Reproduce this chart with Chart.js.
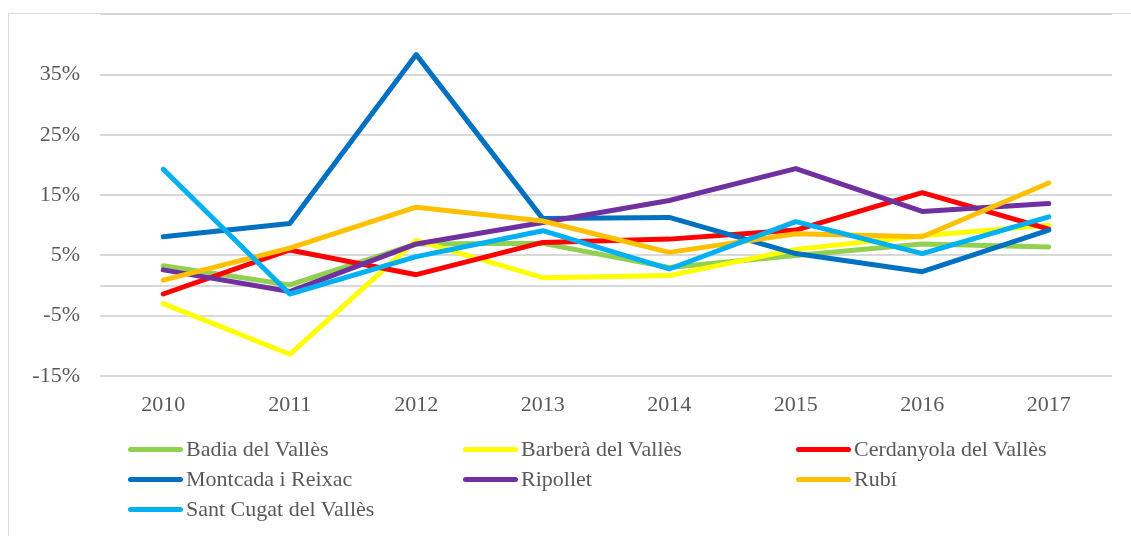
<!DOCTYPE html>
<html>
<head>
<meta charset="utf-8">
<script src="https://cdn.jsdelivr.net/npm/chart.js@4.4.1/dist/chart.umd.min.js"></script>
<style>
  html, body { margin: 0; padding: 0; background: #fff; }
  #wrap { position: relative; width: 1131px; height: 536px; overflow: hidden; }
  #frame { position: absolute; left: 8px; top: 13px; width: 1130px; height: 540px; border: 1px solid #d9d9d9; box-sizing: border-box; }
  #cbox { position: absolute; left: 0; top: -19px; width: 1131px; height: 439px; }
  #legend { position: absolute; left: 0; top: 0; width: 1131px; height: 536px; pointer-events: none; }
  .li { position: absolute; display: flex; align-items: center; font-family: "Liberation Serif", "DejaVu Serif", serif; font-size: 22px; color: #595959; white-space: nowrap; }
  .li .sw { width: 55px; height: 5px; border-radius: 3px; margin-right: 3px; }
</style>
</head>
<body>
<div id="wrap">
  <div id="frame"></div>
  <div id="cbox"><canvas id="c"></canvas></div>
  <div id="legend"></div>
</div>
<script>
const years = ['2010','2011','2012','2013','2014','2015','2016','2017'];
const seriesNames = ['Badia del Vallès','Barberà del Vallès','Cerdanyola del Vallès','Montcada i Reixac','Ripollet','Rubí','Sant Cugat del Vallès'];
const badia      = [3.3, 0.1, 6.9, 7.0, 3.0, 5.0, 6.9, 6.4];
const barbera    = [-3.0, -11.4, 7.5, 1.3, 1.65, 6.0, 8.25, 10.0];
const cerdanyola = [-1.4, 5.9, 1.8, 7.15, 7.7, 9.2, 15.4, 9.35];
const montcada   = [8.1, 10.3, 38.3, 11.1, 11.3, 5.3, 2.3, 9.2];
const ripollet   = [2.6, -1.0, 6.9, 10.45, 14.1, 19.4, 12.3, 13.6];
const rubi       = [0.9, 6.2, 13.0, 10.7, 5.5, 8.6, 8.1, 17.0];
const santCugat  = [19.3, -1.4, 4.8, 9.1, 2.75, 10.6, 5.3, 11.4];
const colors = ['#92D050','#FFFF00','#FF0000','#0070C0','#7030A0','#FFC000','#00B0F0'];
const yTickLabels = {'-15':'-15%','-5':'-5%','5':'5%','15':'15%','25':'25%','35':'35%'};

const seriesData = [badia, barbera, cerdanyola, montcada, ripollet, rubi, santCugat];
const datasets = seriesNames.map((n, i) => ({
  label: n,
  data: seriesData[i],
  borderColor: colors[i],
  backgroundColor: colors[i],
  borderWidth: 5,
  pointRadius: 0,
  tension: 0,
  fill: false,
  borderCapStyle: 'round',
  borderJoinStyle: 'round',
  order: seriesNames.length - i
}));

const txt = '#595959';
const chart = new Chart(document.getElementById('c'), {
  type: 'line',
  data: { labels: years, datasets },
  options: {
    responsive: true,
    maintainAspectRatio: false,
    animation: false,
    layout: { padding: { left: 0, right: 19, top: 14, bottom: 0 } },
    plugins: { legend: { display: false }, tooltip: { enabled: false } },
    scales: {
      x: {
        offset: true,
        grid: { display: false, drawTicks: false },
        border: { display: false },
        ticks: { color: txt, padding: 16, font: { family: 'Liberation Serif', size: 22 } },
        afterFit: (s) => { s.height = 44; }
      },
      y: {
        min: -15, max: 45,
        afterBuildTicks: (s) => {
          const t = [];
          for (let v = -15; v <= 45; v += 10) t.push({ value: v });
          t.push({ value: 0 });
          t.sort((a, b) => a.value - b.value);
          s.ticks = t;
        },
        grid: { color: '#d9d9d9', lineWidth: 2, drawTicks: false },
        border: { display: false },
        ticks: {
          color: txt, padding: 20,
          font: { family: 'Liberation Serif', size: 22 },
          callback: (v) => yTickLabels[String(v)] || ''
        },
        afterFit: (s) => { s.width = 100; }
      }
    }
  }
});

const leg = document.getElementById('legend');
const colX = [128, 463, 796];
const rowY = [449, 479, 509];
seriesNames.forEach((n, i) => {
  const d = document.createElement('div');
  d.className = 'li';
  d.style.left = colX[i % 3] + 'px';
  d.style.top = (rowY[Math.floor(i / 3)] - 13) + 'px';
  d.style.height = '26px';
  const sw = document.createElement('span');
  sw.className = 'sw';
  sw.style.background = colors[i];
  const t = document.createElement('span');
  t.textContent = n;
  d.appendChild(sw); d.appendChild(t);
  leg.appendChild(d);
});
</script>
</body>
</html>
